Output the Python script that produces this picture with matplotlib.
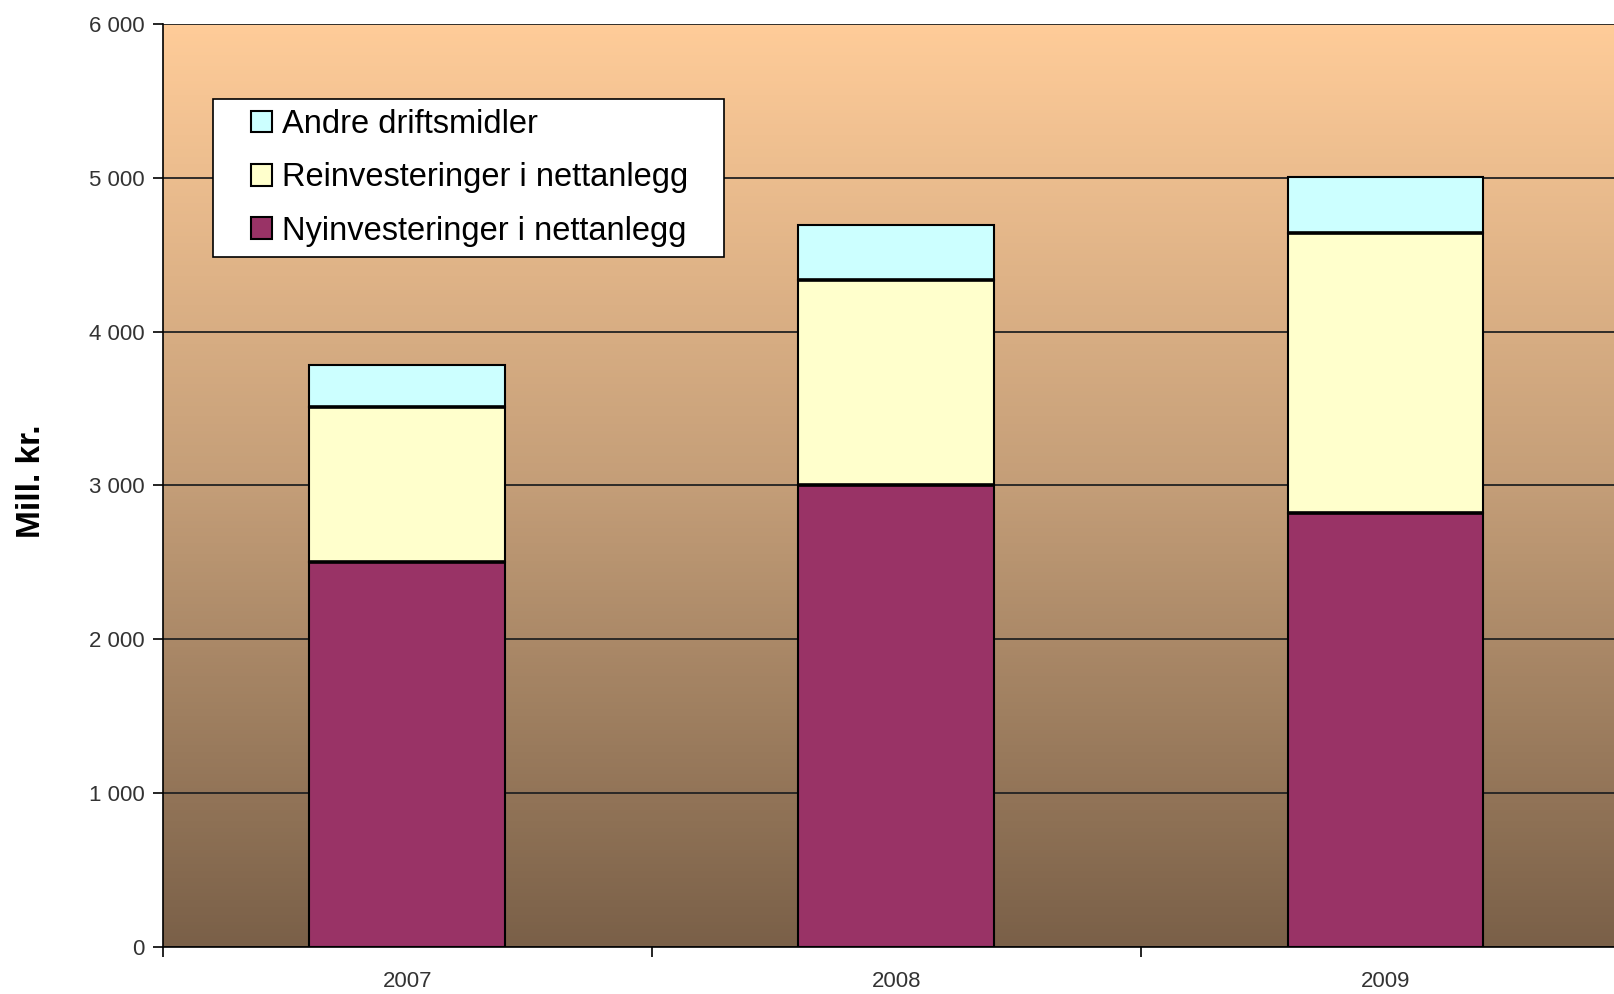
import numpy as np
import matplotlib
matplotlib.use("Agg")
import matplotlib.pyplot as plt
from matplotlib.colors import LinearSegmentedColormap
from matplotlib.legend_handler import HandlerPatch
from matplotlib.patches import Rectangle

years = ["2007", "2008", "2009"]
nyinvest = [2500, 3000, 2820]
reinvest = [1010, 1335, 1820]
andre = [270, 360, 365]

plt.rcParams["font.family"] = ["Liberation Sans", "DejaVu Sans"]

fig = plt.figure(figsize=(16.15, 9.94), dpi=100)
ax = fig.add_axes([0.1007, 0.0473, 0.9085, 0.9286])

# background gradient inside the plot area
grad = LinearSegmentedColormap.from_list("bg", ["#7A6048", "#C49E78", "#FFCC99"])
ax.imshow(np.linspace(0, 1, 256).reshape(-1, 1), cmap=grad, origin="lower",
          extent=[0, 1, 0, 1], transform=ax.transAxes, aspect="auto", zorder=0)

x = np.arange(len(years))
w = 0.4
kw = dict(width=w, edgecolor="black", linewidth=1.5, zorder=3)
b1 = ax.bar(x, nyinvest, color="#993366", label="Nyinvesteringer i nettanlegg", **kw)
ax.bar(x, reinvest, bottom=nyinvest, color="#FFFFCC", label="Reinvesteringer i nettanlegg", **kw)
bottom2 = [a + b for a, b in zip(nyinvest, reinvest)]
ax.bar(x, andre, bottom=bottom2, color="#CCFFFF", label="Andre driftsmidler", **kw)
# thicker separators between stacked segments
ax.hlines(nyinvest, x - w / 2, x + w / 2, color="black", linewidth=2.6, zorder=4)
ax.hlines(bottom2, x - w / 2, x + w / 2, color="black", linewidth=2.6, zorder=4)

ax.set_xlim(-0.5, 2.5)
ax.set_ylim(0, 6000)
ax.set_yticks(range(0, 6001, 1000))
ax.set_yticklabels([f"{v:,}".replace(",", " ") for v in range(0, 6001, 1000)])
ax.yaxis.grid(True, color="#222222", linewidth=1.3, zorder=1)
ax.set_axisbelow(True)

ax.set_xticks([-0.5, 0.5, 1.5])
ax.set_xticklabels([])
ax.set_xticks(x, minor=True)
ax.set_xticklabels(years, minor=True)
ax.tick_params(axis="x", which="minor", length=0, pad=17)
ax.tick_params(axis="x", which="major", length=7, width=1.2, direction="out")
ax.tick_params(axis="y", length=7, width=1.2, direction="out", pad=6)
for lab in ax.get_xticklabels(minor=True) + ax.get_yticklabels():
    lab.set_fontsize(16)
    lab.set_color("#333333")

for s in ["top", "right"]:
    ax.spines[s].set_visible(False)
for s in ["left", "bottom"]:
    ax.spines[s].set_linewidth(1.2)

ax.set_ylabel("Mill. kr.", fontsize=24, fontweight="bold")
ax.yaxis.set_label_coords(-0.079, 0.505)


def square(legend, orig_handle, xdescent, ydescent, width, height, fontsize):
    s = height
    return Rectangle((-xdescent + width - s, -ydescent), s, s)


def first_child(legend_handle, orig_handle):
    legend_handle.update_from(orig_handle.patches[0])


handles, labels = ax.get_legend_handles_labels()
leg = ax.legend(handles[::-1], labels[::-1], loc="upper left",
                bbox_to_anchor=(0.0343, 0.8, 0.3483, 0.119), mode="expand",
                borderaxespad=0,
                fontsize=23.5, fancybox=False, framealpha=1, edgecolor="black",
                handlelength=1.5, handleheight=0.63, handletextpad=0.3,
                labelspacing=0.68, borderpad=0.32,
                handler_map={type(b1): HandlerPatch(patch_func=square,
                                                    update_func=first_child)})
leg.get_frame().set_linewidth(1.2)
leg.set_zorder(5)

fig.savefig("out.png", dpi=100)
